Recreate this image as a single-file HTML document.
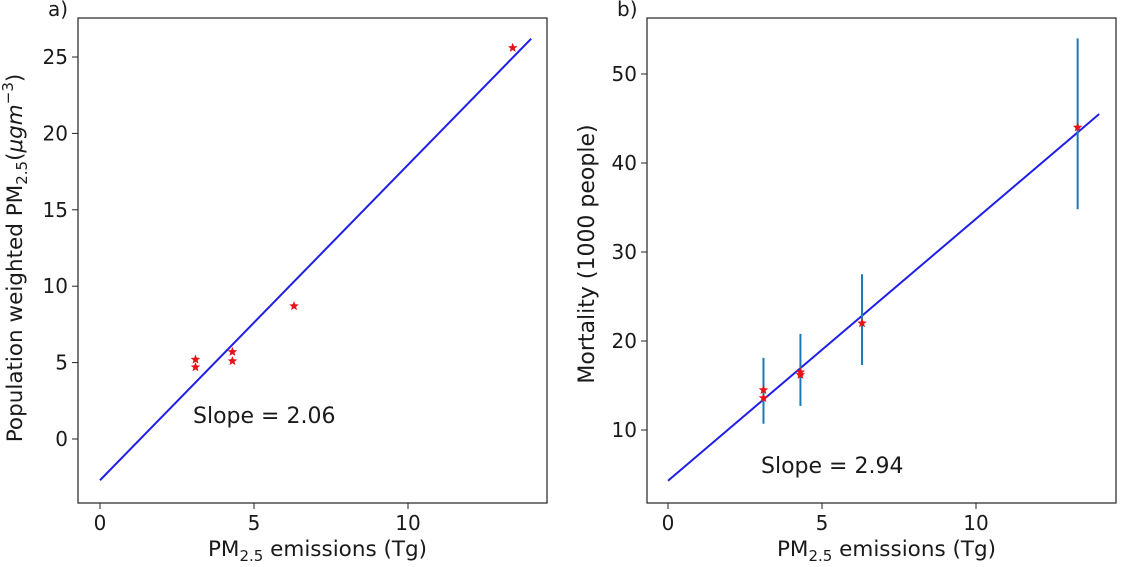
<!DOCTYPE html>
<html><head><meta charset="utf-8"><style>
body{margin:0;background:#fff;}
svg text{font-family:"DejaVu Sans","Liberation Sans",sans-serif;fill:#1a1a1a;}
</style></head><body>
<svg id="c" width="1125" height="562" xmlns="http://www.w3.org/2000/svg"></svg>
<script>
const aX=[3.1,3.1,4.3,4.3,6.3,13.4];
const aY=[5.2,4.7,5.7,5.1,8.7,25.6];
const aLine=[[0,-2.7],[14,26.2]];
const aYTicks=[0,5,10,15,20,25];
const xTicks=[0,5,10];
const bX=[3.1,3.1,4.3,4.3,6.3,13.3];
const bY=[14.5,13.6,16.5,16.2,22,44];
const bErrX=[3.1,4.3,6.3,13.3];
const bErrLo=[10.7,12.7,17.3,34.8];
const bErrHi=[18.1,20.8,27.5,54];
const bLine=[[0,4.3],[14,45.5]];
const bYTicks=[10,20,30,40,50];
const NS="http://www.w3.org/2000/svg";
const svg=document.getElementById('c');
function el(t,a,txt){const e=document.createElementNS(NS,t);for(const k in a)e.setAttribute(k,a[k]);if(txt!==undefined)e.textContent=txt;svg.appendChild(e);return e;}
function star(cx,cy){let p=[];for(let i=0;i<10;i++){const r=i%2?2.2:5,a=-Math.PI/2+i*Math.PI/5;p.push((cx+r*Math.cos(a)).toFixed(1)+','+(cy+r*Math.sin(a)).toFixed(1));}return p.join(' ');}
function panel(o){
 const sx=v=>o.x0+(v-0)*o.kx, sy=v=>o.yref-(v-o.vref)*o.ky;
 const f=el('rect',{x:o.L,y:18,width:o.W,height:485,fill:'none',stroke:'#222','stroke-width':1.2});
 
 xTicks.forEach(t=>{const x=sx(t);
  const l=el('line',{x1:x,x2:x,y1:503,y2:509,stroke:'#222'});
  const tx=el('text',{x:x,y:530,'text-anchor':'middle','font-size':20},t);});
 o.yt.forEach(t=>{const y=sy(t);
  const l=el('line',{x1:o.L-6,x2:o.L,y1:y,y2:y,stroke:'#222'});
  const tx=el('text',{x:o.L-10,y:y+7,'text-anchor':'end','font-size':20},t);});
 const ln=el('line',{x1:sx(o.line[0][0]),y1:sy(o.line[0][1]),x2:sx(o.line[1][0]),y2:sy(o.line[1][1]),stroke:'#1f1fe6','stroke-width':2});
 
 if(o.ex){o.ex.forEach((x,i)=>{const e=el('line',{x1:sx(x),x2:sx(x),y1:sy(o.lo[i]),y2:sy(o.hi[i]),stroke:'#1f77b4','stroke-width':2});});}
 o.px.forEach((x,i)=>{const s=el('polygon',{points:star(sx(x),sy(o.py[i])),fill:'#e8121a'});});
 const xl=el('text',{x:o.L+o.W/2+5,y:556,'text-anchor':'middle','font-size':21.5});
 xl.innerHTML='PM<tspan font-size="15" dy="5">2.5</tspan><tspan dy="-5"> emissions (Tg)</tspan>';
 const sl=el('text',{x:o.slx,y:o.sly,'font-size':22},o.slope);
 const pl=el('text',{x:o.L-30,y:16,'font-size':20},o.id+')');
}
panel({id:'a',L:78,W:469,x0:100,kx:30.8,yref:439,vref:0,ky:15.28,yt:aYTicks,line:aLine,px:aX,py:aY,slx:193,sly:423,slope:'Slope = 2.06'});
panel({id:'b',L:647,W:469,x0:668,kx:30.8,yref:430,vref:10,ky:8.9,yt:bYTicks,line:bLine,px:bX,py:bY,ex:bErrX,lo:bErrLo,hi:bErrHi,slx:761,sly:473,slope:'Slope = 2.94'});
const ya=el('text',{x:0,y:0,'font-size':21.5,'text-anchor':'middle',transform:'translate(22,258) rotate(-90)'});

ya.innerHTML='Population weighted PM<tspan font-size="15" dy="5">2.5</tspan><tspan dy="-5">(</tspan><tspan font-style="italic">μgm</tspan><tspan font-size="15" dy="-9">−3</tspan><tspan dy="9">)</tspan>';
const yb=el('text',{x:0,y:0,'font-size':22,'text-anchor':'middle',transform:'translate(594,254) rotate(-90)'},'Mortality (1000 people)');

</script>
</body></html>
